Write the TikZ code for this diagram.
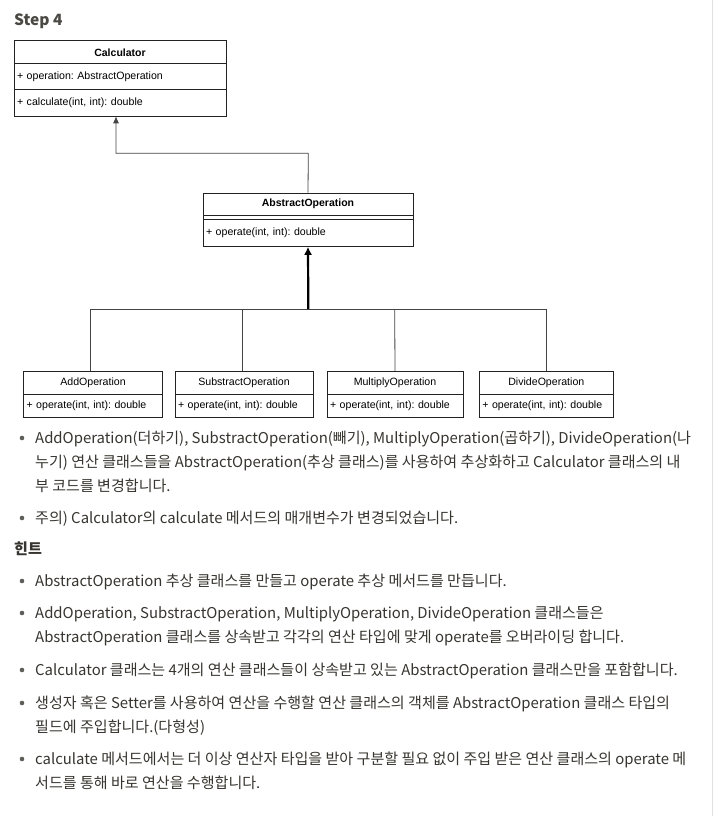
\documentclass[tikz,border=0pt]{standalone}
\usepackage{fontspec}
\setmainfont{Liberation Sans}
\newfontfamily\latf{Noto Sans CJK KR}
\newfontfamily\krf[Scale=1.01]{Noto Sans CJK KR}
\newfontfamily\stepf{Noto Sans CJK KR}
\XeTeXinterchartokenstate=1
\newXeTeXintercharclass\krclass
\count255="AC00
\loop
  \XeTeXcharclass\count255=\krclass
  \ifnum\count255<"D7A3 \advance\count255 by 1
\repeat
\XeTeXinterchartoks 0 \krclass = {\krf}
\XeTeXinterchartoks 4095 \krclass = {\krf}
\XeTeXinterchartoks \krclass 0 = {\latf}
\XeTeXinterchartoks \krclass 4095 = {\latf}
\usetikzlibrary{arrows.meta}
\definecolor{txt}{HTML}{37352F}
\definecolor{umlline}{HTML}{222222}
\definecolor{conn}{HTML}{444444}
\frenchspacing
\begin{document}
\begin{tikzpicture}[x=1pt,y=-1pt,
  umlbox/.style={draw=umlline,line width=0.8pt,minimum width=#1,inner sep=0pt,anchor=north,font=\fontsize{10.6}{12}\selectfont},
  titlebox/.style={umlbox=#1,minimum height=23pt},
  para/.style={anchor=base west,inner sep=0pt,text=txt,font=\latf\fontsize{14.9}{17}\selectfont},
  bul/.style={circle,fill=txt!80,inner sep=0pt,minimum size=4.6pt},
  conn/.style={draw=conn,line width=0.8pt},
]
\useasboundingbox (0,0) rectangle (715,816);
\fill[white] (0,0) rectangle (715,816);
\draw[draw=black!12,line width=1pt] (712.5,0) -- (712.5,816);

\node[anchor=base west,inner sep=0pt,text=txt!90,font=\stepf\bfseries\fontsize{15.5}{17}\selectfont] (step) at (14,26) {Step 4};

% Calculator
\node[titlebox=212pt,font=\bfseries\fontsize{10.5}{12}\selectfont] (calcT) at (120,40.5) {Calculator};
\node[umlbox=212pt,minimum height=25.8pt,align=left,text width=206pt] (calcA) at (120,63.3) {+ operation: AbstractOperation};
\node[umlbox=212pt,minimum height=26.4pt,align=left,text width=206pt] (calcM) at (120,89.1) {+ calculate(int, int): double};

% AbstractOperation
\node[titlebox=210pt,minimum height=22.3pt,font=\bfseries\fontsize{10.5}{12}\selectfont] (absT) at (308,192.7) {AbstractOperation};
\node[umlbox=210pt,minimum height=4.3pt] (absA) at (308,215) {};
\node[umlbox=210pt,minimum height=26.7pt,align=left,text width=204pt] (absM) at (308,219.3) {+ operate(int, int): double};

% children
\node[titlebox=139pt] (addT) at (93,371.2) {AddOperation};
\node[umlbox=139pt,minimum height=23pt,align=left,text width=133pt] (addM) at (93,394.2) {+ operate(int, int): double};
\node[titlebox=138pt] (subT) at (244,371.2) {SubstractOperation};
\node[umlbox=138pt,minimum height=23pt,align=left,text width=132pt] (subM) at (244,394.2) {+ operate(int, int): double};
\node[titlebox=136pt] (mulT) at (395,371.2) {MultiplyOperation};
\node[umlbox=136pt,minimum height=23pt,align=left,text width=130pt] (mulM) at (395,394.2) {+ operate(int, int): double};
\node[titlebox=134pt] (divT) at (546.3,371.2) {DivideOperation};
\node[umlbox=134pt,minimum height=23pt,align=left,text width=128pt] (divM) at (546.3,394.2) {+ operate(int, int): double};

% connectors
\coordinate (j1) at (116,153.3);
\coordinate (j2) at (308.3,153.3);
\draw[conn,-{Latex[length=7pt,width=6pt]}] (absT.north) -- (j2) -- (j1) -- (j1 |- calcM.south);
\coordinate (hub) at (308.3,309);
\coordinate (hl) at (90.7,309);
\coordinate (hr) at (546.7,309);
\draw[conn] (hl) -- (hr);
\draw[conn] (hl) -- (hl |- addT.north);
\draw[conn] (242.3,309) -- ([xshift=-1.7pt]subT.north);
\draw[conn] (394.7,309) -- (mulT.north);
\draw[conn] (hr) -- (hr |- divT.north);
\draw[draw=black,line width=2.2pt,-{Latex[length=8pt,width=8pt]}] (hub) -- (absM.south);

% text
\node[bul] (b1) at (22,438) {};
\node[para] (l1) at (35,443.5) {AddOperation(더하기), SubstractOperation(빼기), MultiplyOperation(곱하기), DivideOperation(나};
\node[para] (l2) at (35,467.5) {누기) 연산 클래스들을 AbstractOperation(추상 클래스)를 사용하여 추상화하고 Calculator 클래스의 내};
\node[para] (l3) at (35,491.5) {부 코드를 변경합니다.};
\node[bul] (b2) at (22,518) {};
\node[para] (l4) at (35,523.5) {주의) Calculator의 calculate 메서드의 매개변수가 변경되었습니다.};
\node[para,font=\latf\bfseries\fontsize{14.9}{17}\selectfont] (hint) at (14,554.5) {힌트};
\node[bul] (b3) at (22,581) {};
\node[para] (h1) at (35,586.5) {AbstractOperation 추상 클래스를 만들고 operate 추상 메서드를 만듭니다.};
\node[bul] (b4) at (22,613) {};
\node[para] (h2a) at (35,618.5) {AddOperation, SubstractOperation, MultiplyOperation, DivideOperation 클래스들은};
\node[para] (h2b) at (35,642.5) {AbstractOperation 클래스를 상속받고 각각의 연산 타입에 맞게 operate를 오버라이딩 합니다.};
\node[bul] (b5) at (22,670) {};
\node[para] (h3) at (35,675.5) {Calculator 클래스는 4개의 연산 클래스들이 상속받고 있는 AbstractOperation 클래스만을 포함합니다.};
\node[bul] (b6) at (22,703) {};
\node[para] (h4a) at (35,708.5) {생성자 혹은 Setter를 사용하여 연산을 수행할 연산 클래스의 객체를 AbstractOperation 클래스 타입의};
\node[para] (h4b) at (35,732.5) {필드에 주입합니다.(다형성)};
\node[bul] (b7) at (22,759) {};
\node[para] (h5a) at (35,764.5) {calculate 메서드에서는 더 이상 연산자 타입을 받아 구분할 필요 없이 주입 받은 연산 클래스의 operate 메};
\node[para] (h5b) at (35,788.5) {서드를 통해 바로 연산을 수행합니다.};
\end{tikzpicture}
\end{document}
